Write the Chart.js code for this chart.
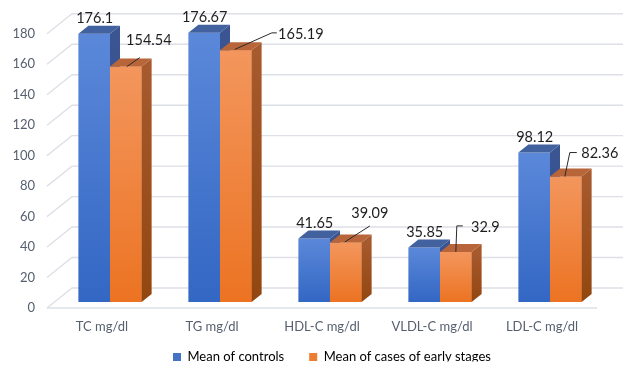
<!DOCTYPE html>
<html>
<head>
<meta charset="utf-8">
<script src="https://cdn.jsdelivr.net/npm/chart.js@4.4.0/dist/chart.umd.min.js"></script>
<style>
  html, body { margin: 0; padding: 0; background: #ffffff; }
  #wrap { width: 630px; height: 369px; }
</style>
</head>
<body>
<div id="wrap"><canvas id="chart" width="630" height="369"></canvas></div>
<script>
// Lipid profile: mean of controls vs mean of early-stage cases
const categories = ['TC mg/dl', 'TG mg/dl', 'HDL-C mg/dl', 'VLDL-C mg/dl', 'LDL-C mg/dl'];
const controlMeans = [176.1, 176.67, 41.65, 35.85, 98.12];
const earlyCaseMeans = [154.54, 165.19, 39.09, 32.9, 82.36];
const seriesNames = ['Mean of controls', 'Mean of cases of early stages'];
const yTicks = [0, 20, 40, 60, 80, 100, 120, 140, 160, 180];

// Pseudo-3D geometry (pixels)
const BAR_DX = 10, BAR_DY = 8;          // depth of each bar
const FRONT_DX = -8, FRONT_DY = 6;      // floor front edge relative to bar plane
const BACK_DX = 17, BACK_DY = -14;      // back wall relative to bar plane
const GRID = '#dde0e6';
const AXIS_TEXT = '#566070';
const LABEL_TEXT = '#1e1e1e';
const FONT = 'Lato, "Open Sans", sans-serif';

const palette = [
  { front: ['#5b88d9', '#3367c4'], top: '#42619f', side: ['#3a5592', '#304a85'], legend: '#4472c4' },
  { front: ['#f3965d', '#ec7322'], top: '#b9653a', side: ['#a65a2e', '#92460f'], legend: '#ed7d31' }
];

// Callout placement for the second series (label centre and leader path, relative to bar top)
const caseCallouts = [
  { dx: 23, dy: -26, leader: [[1, 0], [14, -9]] },
  { dx: 65, dy: -16, leader: [[-1, -1], [36, -17.5], [41, -17.5]] },
  { dx: 24, dy: -29, leader: [[-1, -0.5], [24, -16.5]] },
  { dx: 29.5, dy: -25, leader: [[0, 0], [1, -26], [7, -26]] },
  { dx: 34, dy: -23, leader: [[-1, 0], [4, -24], [11, -24]] }
];

function frontGradient(idx) {
  return (c) => {
    const chart = c.chart;
    if (!chart.chartArea || c.type !== 'data') return palette[idx].legend;
    const y = chart.scales.y.getPixelForValue(c.raw);
    const g = chart.ctx.createLinearGradient(0, y, 0, chart.chartArea.bottom);
    g.addColorStop(0, palette[idx].front[0]);
    g.addColorStop(1, palette[idx].front[1]);
    return g;
  };
}

// Back wall, left wall and floor edges
const wallsPlugin = {
  id: 'walls',
  beforeDatasetsDraw(chart) {
    const ctx = chart.ctx;
    const ys = chart.scales.y;
    const { left, right } = chart.chartArea;
    ctx.save();
    ctx.strokeStyle = GRID;
    ctx.lineWidth = 1.4;
    yTicks.forEach((v) => {
      const y = ys.getPixelForValue(v);
      ctx.beginPath();
      ctx.moveTo(left + FRONT_DX, y + FRONT_DY);
      ctx.lineTo(left + BACK_DX, y + BACK_DY);
      ctx.lineTo(right + BACK_DX + 1, y + BACK_DY);
      ctx.stroke();
    });
    const y0 = ys.getPixelForValue(0);
    ctx.beginPath();
    ctx.moveTo(left + FRONT_DX, y0 + FRONT_DY);
    ctx.lineTo(right + FRONT_DX, y0 + FRONT_DY);
    ctx.stroke();
    ctx.restore();
  }
};

function drawFaces(ctx, meta, p) {
  meta.data.forEach((el) => {
    const L = el.x - el.width / 2, R = el.x + el.width / 2;
    const T = el.y, B = el.base;
    const sg = ctx.createLinearGradient(0, T, 0, B);
    sg.addColorStop(0, p.side[0]);
    sg.addColorStop(1, p.side[1]);
    ctx.fillStyle = sg;
    ctx.beginPath();
    ctx.moveTo(R, T);
    ctx.lineTo(R + BAR_DX, T - BAR_DY);
    ctx.lineTo(R + BAR_DX, B - BAR_DY);
    ctx.lineTo(R, B);
    ctx.closePath();
    ctx.fill();
    ctx.fillStyle = p.top;
    ctx.beginPath();
    ctx.moveTo(L, T);
    ctx.lineTo(L + BAR_DX, T - BAR_DY);
    ctx.lineTo(R + BAR_DX, T - BAR_DY);
    ctx.lineTo(R, T);
    ctx.closePath();
    ctx.fill();
  });
}

// Depth faces: first series' faces sit behind the second series' front faces
const depthPlugin = {
  id: 'depth',
  afterDatasetsDraw(chart) {
    const ctx = chart.ctx;
    const m0 = chart.getDatasetMeta(0), m1 = chart.getDatasetMeta(1);
    ctx.save();
    drawFaces(ctx, m0, palette[0]);
    m1.data.forEach((el) => el.draw(ctx));
    drawFaces(ctx, m1, palette[1]);
    ctx.restore();
  }
};

// Value labels
const valueLabelPlugin = {
  id: 'valueLabels',
  afterDatasetsDraw(chart) {
    const ctx = chart.ctx;
    ctx.save();
    ctx.font = '14.5px ' + FONT;
    ctx.fillStyle = LABEL_TEXT;
    ctx.textAlign = 'center';
    ctx.textBaseline = 'middle';
    chart.getDatasetMeta(0).data.forEach((el, i) => {
      ctx.fillText(String(controlMeans[i]), el.x + 0.5, el.y - 15.5);
    });
    ctx.strokeStyle = '#2a2a2a';
    ctx.lineWidth = 1;
    chart.getDatasetMeta(1).data.forEach((el, i) => {
      const c = caseCallouts[i];
      ctx.beginPath();
      c.leader.forEach(([dx, dy], k) => {
        if (k === 0) ctx.moveTo(el.x + dx, el.y + dy);
        else ctx.lineTo(el.x + dx, el.y + dy);
      });
      ctx.stroke();
      ctx.fillText(String(earlyCaseMeans[i]), el.x + c.dx, el.y + c.dy);
    });
    ctx.restore();
  }
};

// Legend placement below the plot
const LEGEND_START_X = 173, LEGEND_CENTER_Y = 357, LEGEND_PAD = 25, LEGEND_BOX = 8, LEGEND_FONT = 13;
const legendPlacePlugin = {
  id: 'legendPlace',
  afterLayout(chart) {
    const lg = chart.legend;
    if (!lg || !lg.lineWidths) return;
    const start = (lg.left + LEGEND_PAD + lg.right - lg.lineWidths[0]) / 2;
    const sx = LEGEND_START_X - start;
    lg.left += sx; lg.right += sx;
    const itemH = Math.max(LEGEND_FONT, LEGEND_BOX);
    const sy = LEGEND_CENTER_Y - (lg.top + LEGEND_PAD + itemH / 2);
    lg.top += sy; lg.bottom += sy;
  }
};

new Chart(document.getElementById('chart'), {
  type: 'bar',
  data: {
    labels: categories,
    datasets: [
      { label: seriesNames[0], data: controlMeans, backgroundColor: frontGradient(0),
        categoryPercentage: 0.575, barPercentage: 1, borderWidth: 0 },
      { label: seriesNames[1], data: earlyCaseMeans, backgroundColor: frontGradient(1),
        categoryPercentage: 0.575, barPercentage: 1, borderWidth: 0 }
    ]
  },
  options: {
    responsive: false,
    animation: false,
    devicePixelRatio: 1,
    layout: { padding: { left: 12, right: 25, top: 27, bottom: -2 } },
    scales: {
      x: {
        afterFit: (scale) => { scale.height = 33; },
        grid: { display: false, drawTicks: false },
        border: { display: false },
        ticks: { color: AXIS_TEXT, font: { family: FONT, size: 13 }, padding: 17, labelOffset: -8, maxRotation: 0 }
      },
      y: {
        min: 0, max: 180,
        afterFit: (scale) => { scale.width = 43; },
        afterBuildTicks: (scale) => { scale.ticks = yTicks.map((v) => ({ value: v })); },
        grid: { display: false, drawTicks: false },
        border: { display: false },
        ticks: { color: AXIS_TEXT, font: { family: FONT, size: 13 }, padding: 20, labelOffset: 6 }
      }
    },
    plugins: {
      tooltip: { enabled: false },
      legend: {
        position: 'bottom',
        maxHeight: 36,
        labels: {
          boxWidth: LEGEND_BOX, boxHeight: LEGEND_BOX, padding: LEGEND_PAD,
          color: AXIS_TEXT, font: { family: FONT, size: LEGEND_FONT },
          generateLabels: (chart) => chart.data.datasets.map((ds, i) => ({
            text: ds.label, fillStyle: palette[i].legend, strokeStyle: palette[i].legend,
            lineWidth: 0, hidden: false, datasetIndex: i
          }))
        }
      }
    }
  },
  plugins: [wallsPlugin, depthPlugin, valueLabelPlugin, legendPlacePlugin]
});
</script>
</body>
</html>
